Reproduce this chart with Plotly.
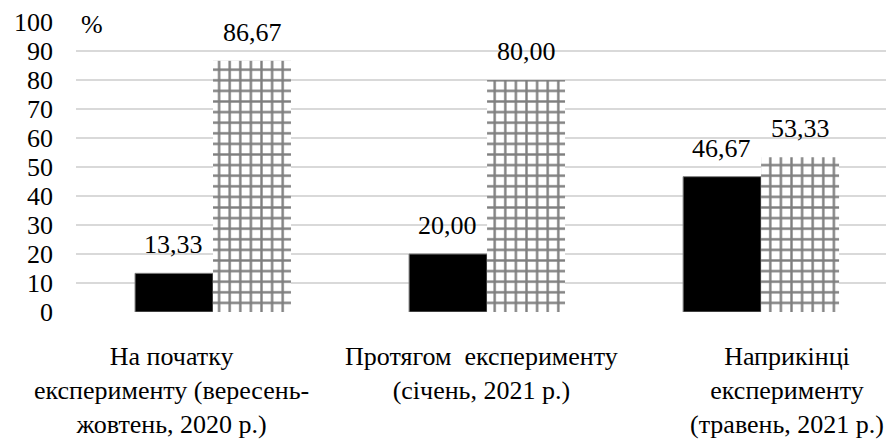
import plotly.graph_objects as go

categories = ["На початку<br>експерименту (вересень-<br>жовтень, 2020 р.)",
              "Протягом  експерименту<br>(січень, 2021 р.)",
              "Наприкінці<br>експерименту<br>(травень, 2021 р.)"]
series_a = [13.33, 20.00, 46.67]
series_b = [86.67, 80.00, 53.33]
y_ticks = [0, 10, 20, 30, 40, 50, 60, 70, 80, 90, 100]

xs = [0, 1, 2]
FONT = "Times New Roman, Liberation Serif, DejaVu Serif, serif"

def fmt(v):
    return f"{v:.2f}".replace(".", ",")

fig = go.Figure()
fig.add_trace(go.Bar(x=xs, y=series_a, marker=dict(color="black", line=dict(color="#7f7f7f", width=1)),
                     showlegend=False, hoverinfo="skip"))
fig.add_trace(go.Bar(x=xs, y=series_b,
                     marker=dict(color="white", line=dict(width=0),
                                 pattern=dict(shape="+", size=10.6, solidity=0.4,
                                              fgcolor="black", bgcolor="white", fillmode="overlay")),
                     showlegend=False, hoverinfo="skip"))

annotations = []
for i, v in enumerate(series_a):
    annotations.append(dict(x=xs[i], y=v, xref="x", yref="y", text=fmt(v), showarrow=False,
                            xshift=-39.5, yshift=12, yanchor="bottom", xanchor="center",
                            font=dict(family=FONT, size=26, color="black")))
for i, v in enumerate(series_b):
    annotations.append(dict(x=xs[i], y=v, xref="x", yref="y", text=fmt(v), showarrow=False,
                            xshift=39.5, yshift=12, yanchor="bottom", xanchor="center",
                            font=dict(family=FONT, size=26, color="black")))

cat_shifts = [-42, -6, 26]
for i, c in enumerate(categories):
    annotations.append(dict(x=xs[i], y=0, xref="x", yref="paper", text=c, showarrow=False,
                            xshift=cat_shifts[i], yshift=-28, yanchor="top", xanchor="center",
                            align="center",
                            font=dict(family=FONT, size=26, color="black")))

annotations.append(dict(x=0, y=100, xref="paper", yref="y", text="%", showarrow=False,
                        xanchor="left", yanchor="middle", xshift=0, yshift=-2,
                        bgcolor="white", borderpad=4,
                        font=dict(family=FONT, size=26, color="black")))

fig.update_layout(
    width=886, height=435,
    margin=dict(l=68, r=0, t=11, b=131),
    paper_bgcolor="white", plot_bgcolor="white",
    barmode="group", bargap=0.431, bargroupgap=0,
    annotations=annotations,
    font=dict(family=FONT, size=26, color="black"),
)
fig.update_xaxes(range=[-0.5, 2.485], showticklabels=False, showgrid=False,
                 zeroline=False, showline=False, ticks="")
fig.update_yaxes(range=[0, 100], tickvals=y_ticks, ticktext=[str(t) for t in y_ticks],
                 showgrid=True, gridcolor="#d9d9d9", gridwidth=1.5,
                 zeroline=False, showline=False, ticks="", ticklabelstandoff=22,
                 ticklabeloverflow="allow",
                 tickfont=dict(family=FONT, size=26, color="black"))

fig.write_html("out.html")
